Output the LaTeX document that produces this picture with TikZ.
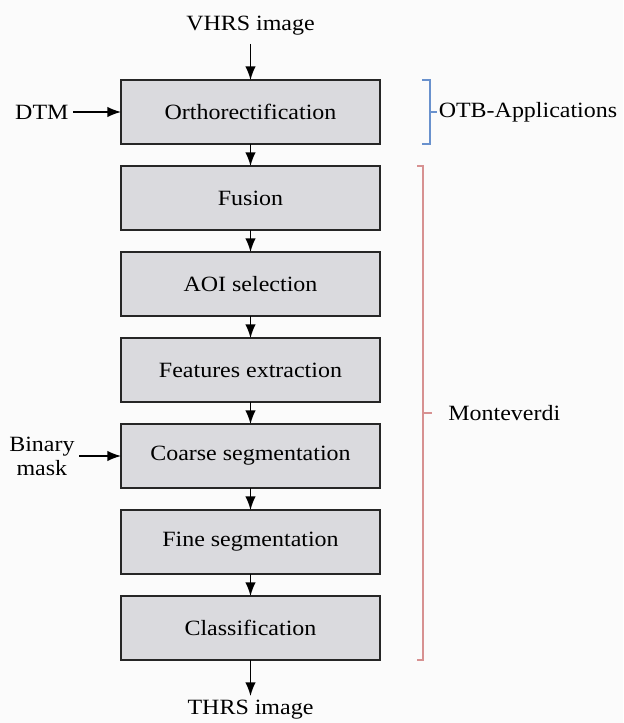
\documentclass[tikz,border=0pt]{standalone}
\usepackage{fontspec}
\setmainfont{Liberation Serif}[FakeStretch=1.1]
\usetikzlibrary{positioning,arrows.meta,calc}
\definecolor{stagefill}{RGB}{218,218,222}
\definecolor{pagebg}{RGB}{251,251,251}
\definecolor{otbblue}{RGB}{105,145,205}
\definecolor{mvred}{RGB}{215,145,145}
\tikzset{
        node distance=5.5mm,
        stage/.style={draw=black!85, line width=0.35mm, fill=stagefill, minimum width=64.75mm, minimum height=16mm, outer sep=0pt, inner sep=0pt},
        iotext/.style={inner sep=3pt, align=center},
        flow/.style={line width=0.35mm, -{Latex[length=3.4mm,width=2.6mm]}},
        otbbrace/.style={draw=otbblue, line width=0.28mm},
        mvbrace/.style={draw=mvred, line width=0.28mm},
        bracelabel/.style={right, inner sep=1pt, text=black}
          }

\begin{document}
\begin{tikzpicture}[font=\fontsize{15.5}{17}\selectfont]
            \path[use as bounding box, fill=pagebg] (0,0) rectangle (15.575,-18.075);
            \node[stage] (ortho) at (6.2625,-2.8) {Orthorectification};
            \node[stage, below=of ortho] (fusion) {Fusion};
            \node[stage, below=of fusion] (aoi) {AOI selection};
            \node[stage, below=of aoi] (features) {Features extraction};
            \node[stage, below=of features] (coarse) {Coarse segmentation};
            \node[stage, below=of coarse] (fine) {Fine segmentation};
            \node[stage, below=of fine] (classif) {Classification};
            \node[iotext, above=9mm of ortho, inner sep=6pt] (vhrs) {VHRS image};
            \node[iotext, below=9mm of classif] (thrs) {THRS image};
            \node[iotext, left=12mm of ortho] (dtm) {DTM};
            \node[iotext, left=10.5mm of coarse] (mask) {Binary\\mask};
            \draw[flow] (vhrs) -- (ortho);
            \draw[flow] (dtm) -- (ortho);
            \draw[flow] (mask) -- (coarse);
            \foreach \a/\b in {ortho/fusion, fusion/aoi, aoi/features, features/coarse, coarse/fine, fine/classif, classif/thrs}
              \draw[flow] (\a) -- (\b);
            \draw[otbbrace] ([xshift=10.5mm]ortho.north east) -| ([xshift=12.5mm]ortho.south east) -- ([xshift=10.5mm]ortho.south east);
            \draw[otbbrace] ([xshift=12.5mm]ortho.east) -- ([xshift=14.2mm]ortho.east) node[bracelabel] {OTB-Applications};
            \draw[mvbrace] ([xshift=9.25mm]fusion.north east) -| ([xshift=10.75mm]classif.south east) -- ([xshift=9.25mm]classif.south east);
            \draw[mvbrace] ($(fusion.east)!0.5!(classif.east)+(10.75mm,0)$) -- +(2.25mm,0) node[bracelabel, right=3.6mm] {Monteverdi};
          \end{tikzpicture}
\end{document}
